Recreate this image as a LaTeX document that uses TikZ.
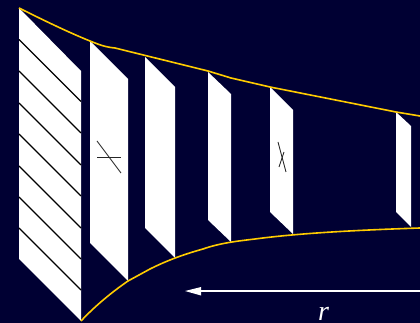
\documentclass[tikz,border=0pt]{standalone}
\usepackage{fontspec}
\setmainfont{Liberation Serif}
\definecolor{bgnavy}{RGB}{0,0,51}
\definecolor{goldline}{RGB}{255,204,0}
\tikzset{
  plate/.style={fill=white,draw=none},
  hatch/.style={draw=black,line width=1pt},
  tick/.style={draw=black!85,line width=0.65pt},
  envelope/.style={draw=goldline,line width=1.2pt,line join=round},
  px/.style={x=0.75pt,y=-0.75pt}
}
\begin{document}
\begin{tikzpicture}[px]
\path[use as bounding box,fill=bgnavy] (0,0) rectangle (420,323);
% plates
\fill[plate] (19,8) -- (81,71) -- (81,321) -- (19,259) -- cycle;
\fill[plate] (90,41) -- (128,79) -- (128,281) -- (90,243) -- cycle;
\fill[plate] (145,57) -- (175,87) -- (175,258) -- (145,228) -- cycle;
\fill[plate] (208,72) -- (231,94) -- (231,242) -- (208,220) -- cycle;
\fill[plate] (270,87) -- (293,110) -- (293,234) -- (270,212) -- cycle;
\fill[plate] (396,112) -- (411,126) -- (411,227) -- (396,212) -- cycle;
% hatching
\foreach \y in {39.5,71,103,134,166,197,228}
  \draw[hatch] (19,\y) -- (81,\y+62);
% marks
\draw[tick] (97,141) -- (121,173);
\draw[tick] (97,157) -- (121,157);
\draw[tick] (278,142) -- (286,172);
\draw[tick] (284,152) -- (279,167);
% envelopes
\coordinate (t0) at (19,8);
\coordinate (t1) at (90,41);
\coordinate (t2) at (115,48);
\coordinate (t3) at (208,71);
\coordinate (t4) at (231,78);
\coordinate (t5) at (270,87);
\coordinate (t6) at (396,112);
\coordinate (t7) at (420,116);
\draw[envelope] (t0) .. controls (45,21) and (70,33) .. (t1) .. controls (100,45) and (105,47) .. (t2) -- (t3) -- (t4) -- (t5) -- (t6) -- (t7);
\coordinate (b0) at (81,321);
\coordinate (b1) at (128,281);
\coordinate (b2) at (150,269);
\coordinate (b3) at (203,249);
\coordinate (b4) at (255,239);
\coordinate (b7) at (420,228);
\draw[envelope] (b0) .. controls (95,306) and (112,292) .. (b1) -- (b2) .. controls (168,260) and (185,254) .. (b3) .. controls (220,243) and (238,241) .. (b4) .. controls (300,233) and (360,230) .. (b7);
% arrow
\coordinate (a0) at (420,291);
\coordinate (a1) at (200,291);
\draw[white,line width=1pt] (a0) -- (a1);
\fill[white] (185,291) -- (201,287) -- (201,295.5) -- cycle;
\node[white,font=\itshape\fontsize{21}{21}\selectfont,inner sep=0pt,anchor=base] (rlabel) at (323.5,320.5) {r};
\end{tikzpicture}
\end{document}
